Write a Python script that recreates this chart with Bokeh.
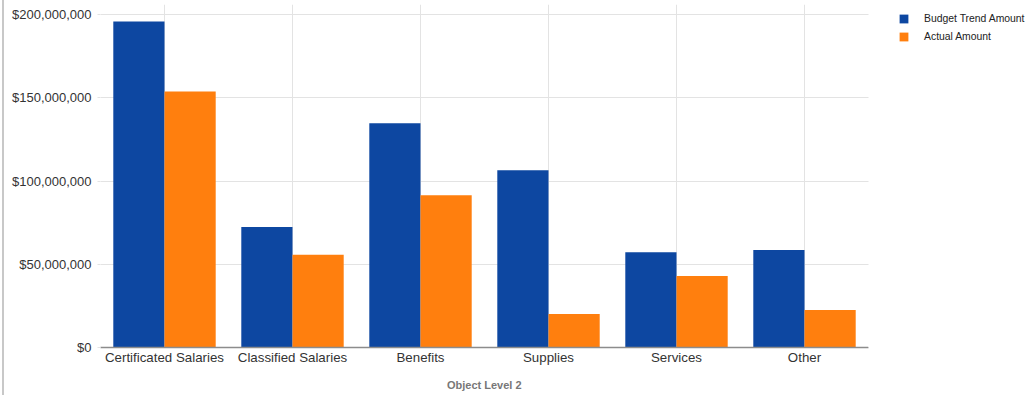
from bokeh.plotting import figure
from bokeh.models import (ColumnDataSource, Range1d, FixedTicker, BoxAnnotation,
                          NumeralTickFormatter, Legend, LegendItem, Div, Title)
from bokeh.layouts import row
from bokeh.transform import dodge
from bokeh.embed import file_html
from bokeh.resources import INLINE

categories = ["Certificated Salaries", "Classified Salaries", "Benefits",
              "Supplies", "Services", "Other"]
budget_trend = [196.0e6, 72.4e6, 134.8e6, 106.5e6, 57.3e6, 58.6e6]
actual = [153.9e6, 55.8e6, 91.5e6, 20.1e6, 43.0e6, 22.5e6]
y_ticks = [0, 50e6, 100e6, 150e6, 200e6]
x_title = "Object Level 2"

# category slot centres on a numeric axis (slot i spans [i, i+1])
xpos = [i + 0.5 for i in range(len(categories))]
n_cat = len(categories)

src = ColumnDataSource(dict(x=xpos, cat=categories, budget=budget_trend, actual=actual))

FONT = "Liberation Sans"
FRAME_W = 925          # frame from page x=100 to right edge
SLOT_PX = 128          # pixel width of one category slot
TITLE_W = 75           # approx. rendered width of the axis title

p = figure(x_range=Range1d(0, FRAME_W / SLOT_PX), y_range=Range1d(0, 206.2e6),
           width=1021, frame_height=343, output_backend="svg", toolbar_location=None,
           min_border_left=96, min_border_right=0, min_border_top=4,
           min_border_bottom=48)
p.outline_line_color = None
p.background_fill_color = "white"
p.border_fill_color = "white"

r1 = p.vbar(x=dodge("x", -0.2), top="budget", width=0.4,
            source=src, fill_color="#0d47a1", line_color=None)
r2 = p.vbar(x=dodge("x", 0.2), top="actual", width=0.4,
            source=src, fill_color="#ff7f0e", line_color=None)

# grids
p.xgrid.ticker = FixedTicker(ticks=xpos)
p.xgrid.grid_line_color = "#e3e3e3"
p.ygrid.grid_line_color = "#e3e3e3"

# y axis
p.yaxis.ticker = FixedTicker(ticks=y_ticks)
p.yaxis.formatter = NumeralTickFormatter(format="$0,0")
p.yaxis.axis_line_color = None
p.yaxis.major_tick_line_color = "#e3e3e3"
p.yaxis.major_tick_out = 3
p.yaxis.major_tick_in = 0
p.yaxis.minor_tick_line_color = None
p.yaxis.major_label_text_font = FONT
p.yaxis.major_label_text_font_size = "13px"
p.yaxis.major_label_text_color = "#333333"
p.yaxis.major_label_standoff = 6

# x axis
p.xaxis.ticker = FixedTicker(ticks=xpos)
p.xaxis.major_label_overrides = {x: c for x, c in zip(xpos, categories)}
p.xaxis.bounds = (0, n_cat)
p.xaxis.axis_line_color = "#8c8c8c"
p.xaxis.axis_line_width = 1.5
p.xaxis.major_tick_line_color = None
p.xaxis.major_tick_out = 0
p.xaxis.major_tick_in = 0
p.xaxis.minor_tick_line_color = None
p.xaxis.major_label_text_font = FONT
p.xaxis.major_label_text_font_size = "13.3px"
p.xaxis.major_label_text_color = "#333333"
p.xaxis.major_label_standoff = 2

# axis title, centred under the six category slots (not the legend area)
p.add_layout(Title(text=x_title, align="left",
                   offset=n_cat * SLOT_PX / 2 - TITLE_W / 2,
                   text_font=FONT, text_font_size="11px", text_font_style="bold",
                   text_color="#777777", standoff=18), "below")

# blank out the legend area to the right of the chart area
p.add_layout(BoxAnnotation(left=n_cat, fill_color="white", fill_alpha=1.0,
                           line_color=None))

legend = Legend(items=[LegendItem(label="Budget Trend Amount", renderers=[r1]),
                       LegendItem(label="Actual Amount", renderers=[r2])],
                location=(798, 305), orientation="vertical",
                glyph_width=11, glyph_height=11, label_height=11,
                label_standoff=15, spacing=7, padding=0, margin=0,
                border_line_color=None, background_fill_alpha=0,
                label_text_font=FONT, label_text_font_size="10.4px",
                label_text_color="#222222")
p.add_layout(legend)

edge = Div(text="", width=4, height=395, margin=0,
           styles={"background": "linear-gradient(to right, white 2px, #c8c8c8 2px)"})

layout = row(edge, p)
open("out.html", "w").write(file_html(layout, INLINE))
